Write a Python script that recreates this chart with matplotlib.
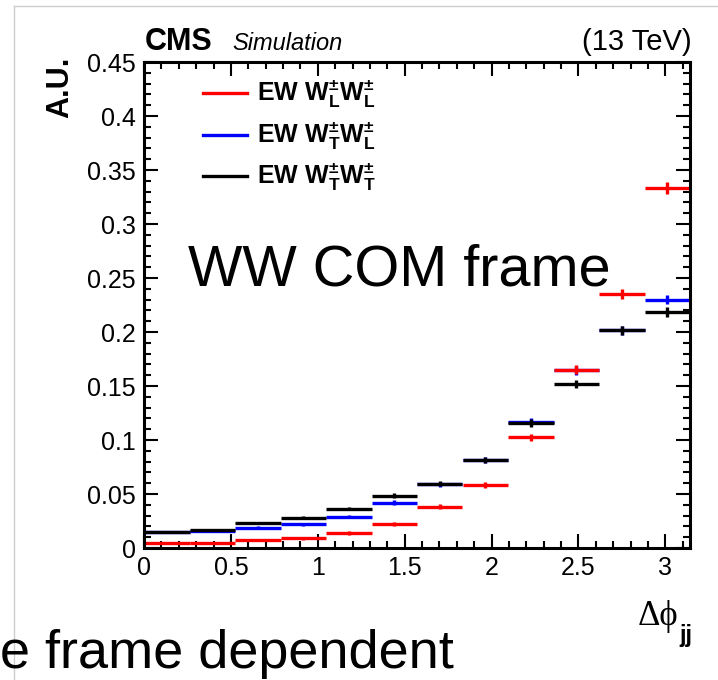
import numpy as np
import matplotlib
matplotlib.use("Agg")
import matplotlib.pyplot as plt
from matplotlib.lines import Line2D
from matplotlib.ticker import MultipleLocator

plt.rcParams['font.family'] = ['Liberation Sans', 'DejaVu Sans']
plt.rcParams['mathtext.fontset'] = 'custom'
plt.rcParams['mathtext.rm'] = 'Liberation Sans'
plt.rcParams['mathtext.bf'] = 'Liberation Sans:bold'
plt.rcParams['mathtext.it'] = 'Liberation Sans:italic'

# Data: 12 bins in delta phi_jj between 0 and pi
n_bins = 12
edges = np.linspace(0, np.pi, n_bins + 1)

ll_vals = [0.0049, 0.0049, 0.0071, 0.0090, 0.0139, 0.0222, 0.0383, 0.0583, 0.1025, 0.1650, 0.2350, 0.3330]
tl_vals = [0.0148, 0.0160, 0.0188, 0.0222, 0.0290, 0.0420, 0.0590, 0.0812, 0.1170, 0.1645, 0.2015, 0.2300]
tt_vals = [0.0151, 0.0164, 0.0230, 0.0280, 0.0364, 0.0485, 0.0595, 0.0815, 0.1157, 0.1520, 0.2018, 0.2185]
ll_err = [0.0008, 0.0008, 0.0010, 0.0012, 0.0014, 0.0018, 0.0022, 0.0025, 0.0030, 0.0040, 0.0045, 0.0055]
tl_err = [0.0010, 0.0010, 0.0012, 0.0014, 0.0016, 0.0020, 0.0024, 0.0028, 0.0035, 0.0040, 0.0042, 0.0045]
tt_err = [0.0010, 0.0010, 0.0012, 0.0014, 0.0016, 0.0020, 0.0024, 0.0028, 0.0035, 0.0040, 0.0042, 0.0045]

labels = [r"$\mathbf{EW\ W^{\pm}_{L}W^{\pm}_{L}}$",
          r"$\mathbf{EW\ W^{\pm}_{T}W^{\pm}_{L}}$",
          r"$\mathbf{EW\ W^{\pm}_{T}W^{\pm}_{T}}$"]
colors = ['#ff0000', '#0000ff', '#000000']

centers = 0.5 * (edges[:-1] + edges[1:])
halfw = 0.5 * (edges[1:] - edges[:-1])

W, H = 718, 680
fig = plt.figure(figsize=(W / 100, H / 100), dpi=100)
ax = fig.add_axes([144 / W, 1 - 548 / H, (690 - 144) / W, (548 - 62) / H])

order = [(tl_vals, tl_err, colors[1]), (tt_vals, tt_err, colors[2]), (ll_vals, ll_err, colors[0])]
for vals, errs, c in order:
    ax.errorbar(centers, vals, xerr=halfw, yerr=errs, fmt='none', ecolor=c,
                elinewidth=2.4, capsize=0)

ax.set_xlim(0, np.pi)
ax.set_ylim(0, 0.45)
ax.xaxis.set_major_locator(MultipleLocator(0.5))
ax.xaxis.set_minor_locator(MultipleLocator(0.1))
ax.yaxis.set_major_locator(MultipleLocator(0.05))
ax.yaxis.set_minor_locator(MultipleLocator(0.01))
ax.set_xticks([0, 0.5, 1, 1.5, 2, 2.5, 3])
ax.set_xticklabels(['0', '0.5', '1', '1.5', '2', '2.5', '3'])
ax.set_yticks([0, 0.05, 0.1, 0.15, 0.2, 0.25, 0.3, 0.35, 0.4, 0.45])
ax.set_yticklabels(['0', '0.05', '0.1', '0.15', '0.2', '0.25', '0.3', '0.35', '0.4', '0.45'])
ax.tick_params(which='both', direction='in', top=True, right=True, width=1.5, labelsize=18)
ax.tick_params(which='major', length=10, pad=6)
ax.tick_params(which='minor', length=5)
for s in ax.spines.values():
    s.set_linewidth(2.2)

# legend
for i, (lab, c) in enumerate(zip(labels, colors)):
    y = [93, 135, 176][i]
    fig.add_artist(Line2D([203 / W, 247 / W], [1 - y / H, 1 - y / H], color=c, lw=2.4))
    fig.text(257 / W, 1 - y / H, lab, fontsize=18, va='center', ha='left')

# headers
fig.text(145 / W, 1 - 50 / H, "CMS", fontsize=22, fontweight='bold', ha='left', va='baseline')
fig.text(232 / W, 1 - 50 / H, "Simulation", fontsize=17, fontstyle='italic', ha='left', va='baseline')
fig.text(692 / W, 1 - 50 / H, "(13 TeV)", fontsize=21, ha='right', va='baseline')
fig.text(60 / W, 1 - 57 / H, "A.U.", fontsize=22, fontweight='bold', rotation=90, ha='center', va='top')
fig.text(638 / W, 1 - 625 / H, "\u0394\u03d5", fontsize=25, ha='left', va='baseline',
         family=['Liberation Serif', 'DejaVu Serif'])
fig.text(679 / W, 1 - 642 / H, "jj", fontsize=17, fontweight='bold', ha='left', va='baseline')

# slide overlay text
fig.text(188 / W, 1 - 285 / H, "WW COM frame", fontsize=41.5, ha='left', va='baseline')
fig.text(0 / W, 1 - 668 / H, "e frame dependent", fontsize=39, ha='left', va='baseline')

# slide frame lines
fig.add_artist(Line2D([14 / W, 1], [1 - 6 / H, 1 - 6 / H], color='#cccccc', lw=1))
fig.add_artist(Line2D([14 / W, 14 / W], [0, 1 - 6 / H], color='#cccccc', lw=1))

fig.savefig("out.png", dpi=100)
